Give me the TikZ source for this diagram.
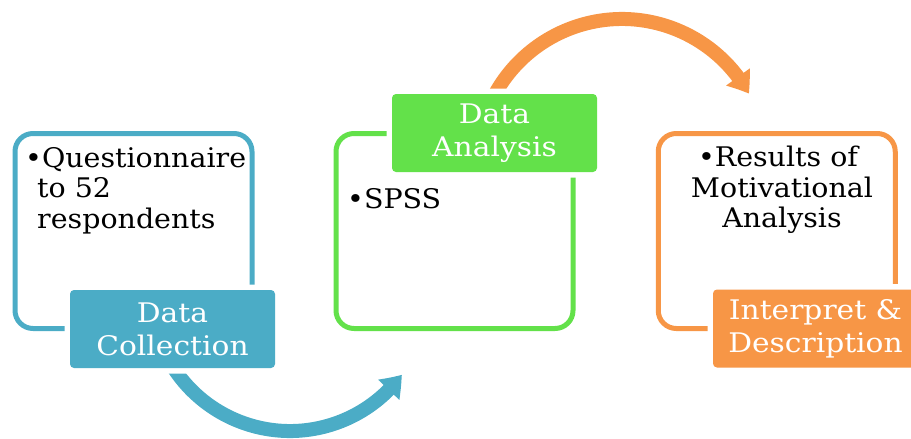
\documentclass[tikz,border=0pt]{standalone}
\usepackage{fontspec}
\setmainfont[FakeStretch=1.055]{DejaVu Serif}
\newfontfamily\labfont[FakeStretch=1.1]{DejaVu Serif}
\usetikzlibrary{arrows.meta,bending}
\definecolor{cblue}{RGB}{75,172,198}
\definecolor{cgreen}{RGB}{99,225,74}
\definecolor{corange}{RGB}{247,150,70}
\begin{document}
\begin{tikzpicture}[x=1pt,y=-1pt,
 outbox/.style={draw=#1, line width=5pt, rounded corners=18pt, inner sep=0pt, minimum width=237pt, minimum height=195pt},
 labbox/.style={fill=#1, text=white, rounded corners=4pt, inner sep=0pt, minimum width=205pt, minimum height=78pt, align=center, font=\labfont\fontsize{27}{33}\selectfont, preaction={draw=white, line width=11pt}},
 body/.style={inner sep=0pt, font=\fontsize{27}{30}\selectfont, text=black},
 cyc/.style={draw=#1, line width=14pt, -{Triangle[length=20pt,width=28pt,bend]}}]
\useasboundingbox (0,0) rectangle (911,439);
% outline boxes
\node[outbox=cblue] (b1) at (133.5,231) {};
\node[outbox=cgreen] (b2) at (454.5,231) {};
\node[outbox=corange] (b3) at (776.75,231) {};
% cycle arrows
\coordinate (cb) at (290,292);
\coordinate (co) at (622,164);
\draw[cyc=cblue] (cb) ++(160:139) arc[start angle=160, end angle=36.5, radius=139];
\draw[cyc=corange] (co) ++(200:145) arc[start angle=200, end angle=331, radius=145];
% label boxes
\node[labbox=cblue] (l1) at (172.5,329) {Data\\Collection};
\node[labbox=cgreen] (l2) at (494.5,133) {Data\\Analysis};
\node[labbox=corange] (l3) at (815.5,328.5) {Interpret \&\\Description};
% body texts
\node[body, anchor=base west] (q1) at (25,167) {•Questionnaire};
\node[body, anchor=base west] (q2) at (37,197) {to 52};
\node[body, anchor=base west] (q3) at (37,228) {respondents};
\node[body, anchor=base west] (s1) at (347,208) {•SPSS};
\node[body, anchor=base] (r1) at (778,166) {•Results of};
\node[body, anchor=base] (r2) at (782,197) {Motivational};
\node[body, anchor=base] (r3) at (782,227) {Analysis};
\end{tikzpicture}
\end{document}
